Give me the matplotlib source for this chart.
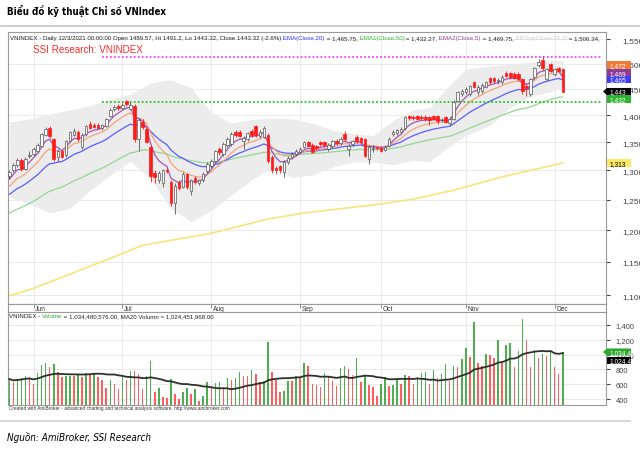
import numpy as np
import pandas as pd
import matplotlib.pyplot as plt
from matplotlib.lines import Line2D
from matplotlib.patches import Polygon
from matplotlib.ticker import NullLocator

# VN-Index daily bars, 24 May - 3 Dec 2021
opens = [1290, 1300, 1309, 1318, 1303, 1325, 1329, 1334, 1344, 1364,
         1376, 1356, 1324, 1334, 1327, 1353, 1364, 1368, 1341, 1365,
         1383, 1382, 1381, 1377, 1380, 1399, 1412, 1418, 1414, 1426,
         1412, 1418, 1356, 1388, 1374, 1342, 1296, 1284, 1278, 1301,
         1280, 1245, 1280, 1272, 1293, 1264, 1287, 1278, 1283, 1299,
         1308, 1317, 1338, 1329, 1345, 1347, 1369, 1369, 1353, 1356,
         1370, 1379, 1362, 1360, 1363, 1324, 1305, 1307, 1298, 1315,
         1323, 1329, 1333, 1342, 1350, 1345, 1343, 1350, 1350, 1338,
         1343, 1352, 1349, 1365, 1338, 1347, 1360, 1357, 1356, 1320,
         1338, 1341, 1340, 1337, 1344, 1365, 1367, 1369, 1376, 1398,
         1397, 1398, 1396, 1397, 1396, 1398, 1398, 1391, 1396, 1386,
         1393, 1427, 1440, 1444, 1440, 1463, 1444, 1446, 1454, 1471,
         1471, 1466, 1463, 1482, 1481, 1480, 1480, 1469, 1455, 1440,
         1473, 1497, 1507, 1469, 1499, 1479, 1491, 1489.57]
highs = [1301, 1313, 1321, 1321, 1323, 1334, 1341, 1348, 1367, 1378,
         1380, 1358, 1338, 1337, 1355, 1370, 1376, 1372, 1366, 1382,
         1389, 1386, 1385, 1384, 1395, 1413, 1420, 1421, 1423, 1428,
         1424, 1421, 1395, 1392, 1377, 1345, 1300, 1299, 1303, 1305,
         1283, 1278, 1283, 1297, 1296, 1286, 1290, 1286, 1297, 1314,
         1320, 1337, 1341, 1350, 1359, 1368, 1373, 1372, 1361, 1369,
         1374, 1382, 1372, 1379, 1366, 1327, 1308, 1310, 1318, 1325,
         1332, 1338, 1341, 1353, 1353, 1348, 1346, 1353, 1353, 1348,
         1355, 1356, 1359, 1370, 1347, 1355, 1363, 1360, 1358, 1345,
         1345, 1344, 1343, 1345, 1359, 1372, 1375, 1378, 1399, 1401,
         1400, 1401, 1400, 1400, 1399, 1401, 1401, 1395, 1399, 1396,
         1428, 1447, 1449, 1453, 1458, 1466, 1457, 1461, 1466, 1474,
         1474, 1472, 1477, 1486, 1484, 1483, 1483, 1472, 1460, 1472,
         1494, 1510, 1516, 1492, 1502, 1492, 1494, 1491.2]
lows = [1286, 1297, 1306, 1299, 1300, 1321, 1326, 1331, 1342, 1361,
        1358, 1317, 1316, 1321, 1324, 1350, 1361, 1353, 1338, 1362,
        1375, 1376, 1374, 1373, 1378, 1396, 1408, 1410, 1411, 1418,
        1409, 1350, 1335, 1375, 1348, 1280, 1278, 1278, 1272, 1295,
        1240, 1226, 1266, 1269, 1268, 1258, 1277, 1275, 1280, 1296,
        1305, 1314, 1328, 1326, 1342, 1344, 1360, 1359, 1338, 1352,
        1360, 1360, 1358, 1357, 1313, 1296, 1294, 1296, 1289, 1312,
        1320, 1326, 1330, 1339, 1341, 1330, 1337, 1344, 1342, 1335,
        1340, 1345, 1346, 1353, 1326, 1344, 1349, 1347, 1323, 1312,
        1333, 1336, 1332, 1334, 1341, 1362, 1364, 1366, 1373, 1391,
        1391, 1390, 1390, 1389, 1381, 1390, 1383, 1387, 1385, 1380,
        1390, 1424, 1437, 1441, 1437, 1451, 1438, 1443, 1451, 1460,
        1462, 1460, 1460, 1473, 1470, 1469, 1466, 1440, 1436, 1437,
        1470, 1494, 1488, 1466, 1483, 1476, 1483, 1443.32]
closes = [1298, 1310, 1318, 1302, 1320, 1328, 1338, 1345, 1365, 1374,
          1362, 1320, 1335, 1324, 1353, 1368, 1371, 1356, 1363, 1379,
          1377, 1378, 1376, 1381, 1392, 1410, 1415, 1414, 1420, 1421,
          1420, 1356, 1390, 1378, 1351, 1290, 1289, 1296, 1300, 1299,
          1245, 1274, 1270, 1294, 1272, 1283, 1280, 1283, 1294, 1311,
          1317, 1334, 1332, 1347, 1356, 1365, 1363, 1362, 1358, 1366,
          1363, 1363, 1368, 1376, 1317, 1300, 1300, 1301, 1315, 1322,
          1329, 1335, 1338, 1350, 1344, 1333, 1340, 1347, 1345, 1345,
          1352, 1348, 1356, 1356, 1344, 1352, 1352, 1350, 1326, 1342,
          1340, 1339, 1335, 1342, 1356, 1369, 1372, 1375, 1396, 1394,
          1394, 1393, 1394, 1392, 1391, 1393, 1389, 1391, 1388, 1393,
          1425, 1444, 1446, 1450, 1455, 1454, 1454, 1458, 1463, 1463,
          1465, 1466, 1474, 1476, 1473, 1472, 1469, 1446, 1452, 1469,
          1491, 1503, 1491, 1489, 1486, 1489, 1486, 1443.32]
# volume in millions of shares
volumes = [670, 634, 670, 679, 715, 692, 598, 751, 859, 886,
           836, 868, 769, 692, 706, 715, 708, 737, 701, 751,
           737, 751, 692, 661, 544, 656, 602, 535, 692, 656,
           778, 773, 733, 535, 706, 908, 499, 548, 422, 415,
           670, 467, 400, 499, 553, 467, 535, 378, 445, 625,
           571, 616, 625, 557, 683, 661, 679, 769, 715, 708,
           796, 742, 634, 647, 1165, 769, 661, 490, 512, 647,
           643, 715, 692, 886, 850, 598, 589, 557, 746, 692,
           647, 571, 814, 841, 805, 724, 958, 634, 715, 589,
           557, 436, 602, 692, 580, 589, 661, 602, 724, 715,
           602, 692, 751, 760, 602, 796, 679, 737, 868, 647,
           850, 827, 940, 1084, 971, 1444, 886, 841, 1007, 998,
           949, 1201, 904, 1133, 1151, 827, 1048, 1480, 1201, 836,
           1066, 953, 1012, 985, 1043, 836, 737, 1034.48]

month_idx = [6, 28, 50, 72, 92, 113, 135]
month_names = ["Jun", "Jul", "Aug", "Sep", "Oct", "Nov", "Dec"]

# Bollinger band (15,2) and MA200 read at a few bars
bb_idx = [0, 5, 10, 15, 20, 25, 30, 35, 40, 45, 50, 55, 60, 65, 70, 75, 80, 85, 90, 95,
          100, 104, 108, 113, 119, 124, 129, 134, 137]
bb_top = [1387, 1393, 1402, 1410, 1418, 1430, 1440, 1462, 1468, 1452, 1405, 1385, 1392, 1395,
          1393, 1385, 1372, 1366, 1362, 1390, 1410, 1414, 1450, 1489, 1495, 1499, 1503, 1507, 1506]
bb_bot = [1255, 1243, 1228, 1236, 1266, 1292, 1316, 1285, 1235, 1214, 1232, 1258, 1284, 1305,
          1288, 1292, 1306, 1315, 1315, 1310, 1318, 1315, 1338, 1362, 1381, 1415, 1435, 1445, 1452]
ma200_idx = [0, 6, 28, 33, 50, 64, 73, 92, 100, 110, 122, 137]
ma200_val = [1099, 1110, 1163, 1176, 1195, 1218, 1228, 1243, 1251, 1266, 1289, 1313]

# EMA values just before the first bar
ema_seeds = {5: 1278, 10: 1267, 20: 1255, 50: 1225}
resistance = 1514
support = 1425

price_ticks = [1100, 1150, 1200, 1250, 1300, 1350, 1400, 1450, 1500, 1550]
vol_ticks = [400, 600, 800, 1000, 1200, 1400]
last_values = [1472, 1469, 1465, 1443, 1432, 1313]
vol_last = ["1,034,480,576", "1,024,451,968"]
vol_last_values = [1034.48, 1024.45]

W, H = 640, 464
plt.rcParams['font.family'] = ['Liberation Sans', 'DejaVu Sans']
narrow = ['Liberation Sans Narrow', 'DejaVu Sans']

fig = plt.figure(figsize=(W / 100, H / 100), dpi=100)


def rect(x0, y0, x1, y1):
    return [x0 / W, 1 - y1 / H, (x1 - x0) / W, (y1 - y0) / H]


def fxy(x, y):
    return x / W, 1 - y / H


def ema(values, span, seed):
    a = 2.0 / (span + 1)
    out, e = [], seed
    for v in values:
        e = e + a * (v - e)
        out.append(e)
    return out


o = np.array(opens)
h = np.array(highs)
l = np.array(lows)
c = np.array(closes)
idx = np.arange(len(c))
up = c >= o
xlim = (-0.32, 147.7)

# page decoration
fig.text(*fxy(7, 11), "Biểu đồ kỹ thuật Chỉ số VNIndex", fontsize=7.0, fontweight='bold',
         fontstretch='condensed', va='center', family=narrow)
fig.add_artist(Line2D([0, 1], [1 - 27 / H] * 2, color='#d0d0d0', lw=1.5))
fig.add_artist(Line2D([0, 630 / W], [1 - 422 / H] * 2, color='#d0d0d0', lw=1.2))
fig.text(*fxy(7, 438), "Nguồn: AmiBroker, SSI Research", fontsize=7.1, style='italic',
         fontstretch='condensed', va='center', family=narrow)

# ---- price panel ----
ax = fig.add_axes(rect(8, 33, 606, 305))
ax.set_yscale('log')
ax.set_xlim(*xlim)
ax.set_ylim(1087, 1565)
for v in price_ticks:
    ax.axhline(v, color='#e6e6e6', lw=0.6, zorder=0.5)
for m in month_idx:
    ax.axvline(m, color='#e6e6e6', lw=0.6, zorder=0.5)

ax.fill_between(bb_idx, bb_bot, bb_top, color='#ececec', lw=0, zorder=1)
ax.plot(ma200_idx, ma200_val, color='#f9e47a', lw=1.2, zorder=2)
ema_colors = {50: '#92d892', 20: '#5c5cff', 10: '#f5a47c', 5: '#a455b4'}
for span, col in ema_colors.items():
    ax.plot(idx, ema(closes, span, ema_seeds[span]), color=col, lw=0.9, zorder=2)

ax.hlines(resistance, 23, 146.7, colors='#ff40ff', linestyles=(0, (1, 1.2)), lw=1.3, zorder=2.5)
ax.hlines(support, 23, 146.7, colors='#22c422', linestyles=(0, (1, 1.2)), lw=1.3, zorder=2.5)

body_lo = np.minimum(o, c)
body_hi = np.maximum(o, c)
body_h = np.maximum(body_hi - body_lo, 0.6)
ax.vlines(idx[up], l[up], h[up], color='#555555', lw=0.6, zorder=3)
ax.vlines(idx[~up], l[~up], h[~up], color='#ff1a1a', lw=0.6, zorder=3)
ax.bar(idx[up], body_h[up], bottom=body_lo[up], width=0.62, color='white',
       edgecolor='#555555', lw=0.5, zorder=4)
ax.bar(idx[~up], body_h[~up], bottom=body_lo[~up], width=0.62, color='#ff1a1a',
       edgecolor='#ff1a1a', lw=0.5, zorder=4)

ax.yaxis.tick_right()
ax.set_yticks(price_ticks, [f"{v:,}" for v in price_ticks])
ax.yaxis.set_minor_locator(NullLocator())
ax.set_xticks([])
ax.tick_params(axis='y', length=3, pad=9, labelsize=6, colors='#444444')
for s in ax.spines.values():
    s.set_color('#9a9a9a')
    s.set_linewidth(0.8)

header = [("VNINDEX - Daily 12/3/2021 00:00:00 Open 1489.57, Hi 1491.2, Lo 1443.32, "
           "Close 1443.32 (-2.6%)", '#222222'),
          (" EMA(Close,20)", '#3b3bff'), (" = 1,465.75,", '#222222'),
          (" EMA1(Close,50)", '#33bb33'), (" = 1,432.27,", '#222222'),
          (" EMA2(Close,5)", '#9a3fa0'), (" = 1,469.75,", '#222222'),
          (" BBTop(Close,15,2)", '#cccccc'), (" = 1,506.34,", '#222222')]


def chain(axes, x, y, pieces, size):
    t = fig.text(*fxy(x, y), pieces[0][0], color=pieces[0][1], fontsize=size, va='bottom')
    for s, col in pieces[1:]:
        t = axes.annotate(s, xy=(1, 0), xycoords=t, va='bottom', ha='left',
                          color=col, fontsize=size)


chain(ax, 10, 41, header, 4.45)
fig.text(*fxy(33, 50), "SSI Research: VNINDEX", color='#ff2a2a', fontsize=7.1, va='center')


def flag(yc, value_text, fc, tc, arrow, size=4.8):
    x0, x1, hh = 607, 631, 3.6
    pts = [(x0, yc - hh), (x1, yc - hh), (x1, yc + hh), (x0, yc + hh)]
    if arrow:
        pts = [(x0 - 4, yc)] + pts
    poly = Polygon([fxy(px, py) for px, py in pts], closed=True, fc=fc, ec='none',
                   transform=fig.transFigure, zorder=5)
    fig.add_artist(poly)
    t = fig.text(*fxy(610, yc + 0.3), value_text, color=tc, fontsize=size, va='center',
                 zorder=6)
    t.set_clip_path(poly)


label_colors = ['#f07a36', '#8a3c98', '#3c3cf5', '#000000', '#2fb52f', '#ffe866']
label_text_colors = ['white', 'white', 'white', 'white', 'white', 'black']
label_shift = [-12.8, -6.3, -1.8, -1.0, 0.8, 0.0]
for v, fc, tc, dy in zip(last_values, label_colors, label_text_colors, label_shift):
    yc = H - ax.transData.transform((0, v))[1] + dy
    flag(yc, f"{v:,}", fc, tc, fc == '#000000')

# ---- date strip ----
axd = fig.add_axes(rect(8, 305, 606, 313))
axd.set_xlim(*xlim)
axd.set_ylim(0, 1)
axd.set_xticks([])
axd.set_yticks([])
for s in axd.spines.values():
    s.set_color('#9a9a9a')
    s.set_linewidth(0.8)
for m, name in zip(month_idx, month_names):
    axd.vlines(m, 0.5, 1.0, color='#777777', lw=0.6)
    axd.text(m + 0.35, 0.42, name, fontsize=4.8, va='center', color='#333333')

# ---- volume panel ----
axv = fig.add_axes(rect(8, 313, 606, 406))
axv.set_xlim(*xlim)
axv.set_ylim(319, 1576)
for v in vol_ticks:
    axv.axhline(v, color='#e6e6e6', lw=0.6, zorder=0.5)
for m in month_idx:
    axv.axvline(m, color='#e6e6e6', lw=0.6, zorder=0.5)
vol = pd.Series(volumes)
vol_up = vol.diff().fillna(1) >= 0
axv.bar(idx, vol, width=0.38,
        color=np.where(vol_up, '#4fae4f', '#ff5e5e'), zorder=2)
axv.plot(idx, vol.rolling(20, min_periods=1).mean(), color='#303030', lw=1.3, zorder=3)
axv.yaxis.tick_right()
axv.set_yticks(vol_ticks, [f"{v:,}" for v in vol_ticks])
axv.set_xticks([])
axv.tick_params(axis='y', length=3, pad=4, labelsize=5.5, colors='#444444')
for s in axv.spines.values():
    s.set_color('#9a9a9a')
    s.set_linewidth(0.8)

chain(axv, 9, 319, [("VNINDEX - ", '#222222'), ("Volume", '#33aa33'),
                    (" = 1,034,480,576.00, MA20 Volumn = 1,024,451,968.00", '#222222')], 4.4)

for txt, v, fc, dy, arrow in zip(vol_last, vol_last_values, ['#2fa82f', '#000000'],
                                 [0.0, 7.5], [True, False]):
    yc = H - axv.transData.transform((0, v))[1] + dy
    flag(yc, txt, fc, 'white', arrow)

fig.text(*fxy(9, 409), "Created with AmiBroker - advanced charting and technical analysis "
         "software. http://www.amibroker.com", fontsize=3.4, va='center', color='#333333')

fig.savefig("out.png", dpi=100)
